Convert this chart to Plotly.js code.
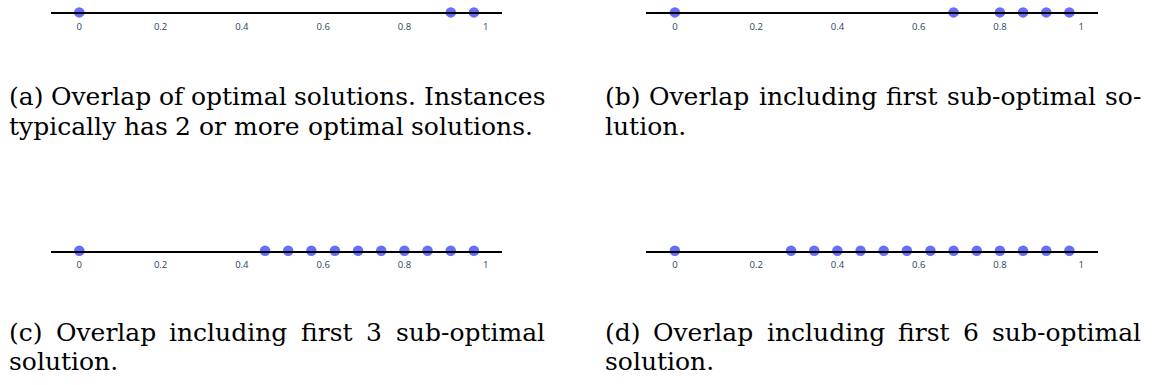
<!DOCTYPE html>
<html>
<head>
<meta charset="utf-8">
<script src="https://cdn.plot.ly/plotly-3.0.1.min.js"></script>
<style>
  html, body { margin: 0; padding: 0; background: #fff; }
  #chart { width: 1153px; height: 385px; }
</style>
</head>
<body>
<div id="chart"></div>
<script>
// Overlap values of the distinct solutions, on [0, 1]
const overlapOptimal = [0, 0.914, 0.971];
const overlapSub1 = [0, 0.686, 0.8, 0.857, 0.914, 0.971];
const overlapSub3 = [0, 0.457, 0.514, 0.571, 0.629, 0.686, 0.743, 0.8, 0.857, 0.914, 0.971];
const overlapSub6 = [0, 0.286, 0.343, 0.4, 0.457, 0.514, 0.571, 0.629, 0.686, 0.743, 0.8, 0.857, 0.914, 0.971];

const tickValues = [0, 0.2, 0.4, 0.6, 0.8, 1];
const tickLabels = ['0', '0.2', '0.4', '0.6', '0.8', '1'];

const captionA = ['(a) Overlap of optimal solutions. Instances', 'typically has 2 or more optimal solutions.'];
const captionB = ['(b) Overlap including first sub-optimal so-', 'lution.'];
const captionC = ['(c) Overlap including first 3 sub-optimal', 'solution.'];
const captionD = ['(d) Overlap including first 6 sub-optimal', 'solution.'];

// ---- page geometry (pixels) ----
const W = 1153, H = 385;
const px = x => x / W;
const py = y => 1 - y / H;

const panels = [
  { data: overlapOptimal, caption: captionA, line: [50.7, 502.3], lineY: 12.4, range: [-0.0703, 1.0408], col: [7.5, 544], base: [105.7, 135] },
  { data: overlapSub1,    caption: captionB, line: [645.8, 1098], lineY: 12.4, range: [-0.0715, 1.0414], col: [603.5, 1140.5], base: [105.7, 135] },
  { data: overlapSub3,    caption: captionC, line: [50.7, 502.3], lineY: 250.8, range: [-0.0704, 1.0409], col: [7.5, 544], base: [341.5, 370.5] },
  { data: overlapSub6,    caption: captionD, line: [645.8, 1098], lineY: 250.8, range: [-0.0715, 1.0414], col: [603.5, 1140.5], base: [341.5, 370.5] }
];

const capFont = { family: 'DejaVu Serif', size: 25, color: '#000' };
const ctx = document.createElement('canvas').getContext('2d');
ctx.font = capFont.size + 'px "' + capFont.family + '"';

// Lay one caption line out word by word; justified lines fill the column.
function layoutLine(text, left, right, justify) {
  const words = text.split(' ');
  const widths = words.map(w => ctx.measureText(w).width);
  const total = widths.reduce((a, b) => a + b, 0);
  const gap = (justify && words.length > 1)
    ? (right - left - total) / (words.length - 1)
    : ctx.measureText(' ').width;
  const out = [];
  let x = left;
  words.forEach((w, i) => { out.push({ word: w, x: x }); x += widths[i] + gap; });
  return out;
}

const traces = [];
const layout = {
  width: W, height: H,
  margin: { l: 0, r: 0, t: 0, b: 0 },
  paper_bgcolor: '#fff', plot_bgcolor: 'rgba(0,0,0,0)',
  showlegend: false,
  annotations: []
};

panels.forEach((p, i) => {
  const n = i === 0 ? '' : String(i + 1);
  traces.push({
    type: 'scatter', mode: 'markers',
    x: p.data, y: p.data.map(() => 0),
    xaxis: 'x' + n, yaxis: 'y' + n,
    cliponaxis: false,
    marker: { color: '#636efa', size: 10.5 },
    hoverinfo: 'x'
  });
  layout['xaxis' + n] = {
    domain: [px(p.line[0]), px(p.line[1])],
    range: p.range,
    anchor: 'y' + n,
    showline: true, linecolor: '#000', linewidth: 1.5,
    showgrid: false, zeroline: false, ticks: '',
    ticklabelstandoff: 4,
    tickmode: 'array', tickvals: tickValues, ticktext: tickLabels,
    tickfont: { family: 'Open Sans, Arial', size: 9.5, color: '#2a3f5f' }
  };
  const yb = py(p.lineY);
  layout['yaxis' + n] = {
    domain: [yb, yb + 2 / H],
    range: [0, 1],
    anchor: 'x' + n,
    visible: false, showgrid: false, zeroline: false
  };
  p.caption.forEach((text, k) => {
    const justify = k < p.caption.length - 1;
    layoutLine(text, p.col[0], p.col[1], justify).forEach(w => {
      layout.annotations.push({
        xref: 'paper', yref: 'paper',
        x: px(w.x), y: py(p.base[k] - 8.7),
        xanchor: 'left', yanchor: 'middle',
        text: w.word, showarrow: false, borderpad: 0,
        font: capFont
      });
    });
  });
});

Plotly.newPlot('chart', traces, layout, { displayModeBar: false, responsive: false });
</script>
</body>
</html>
